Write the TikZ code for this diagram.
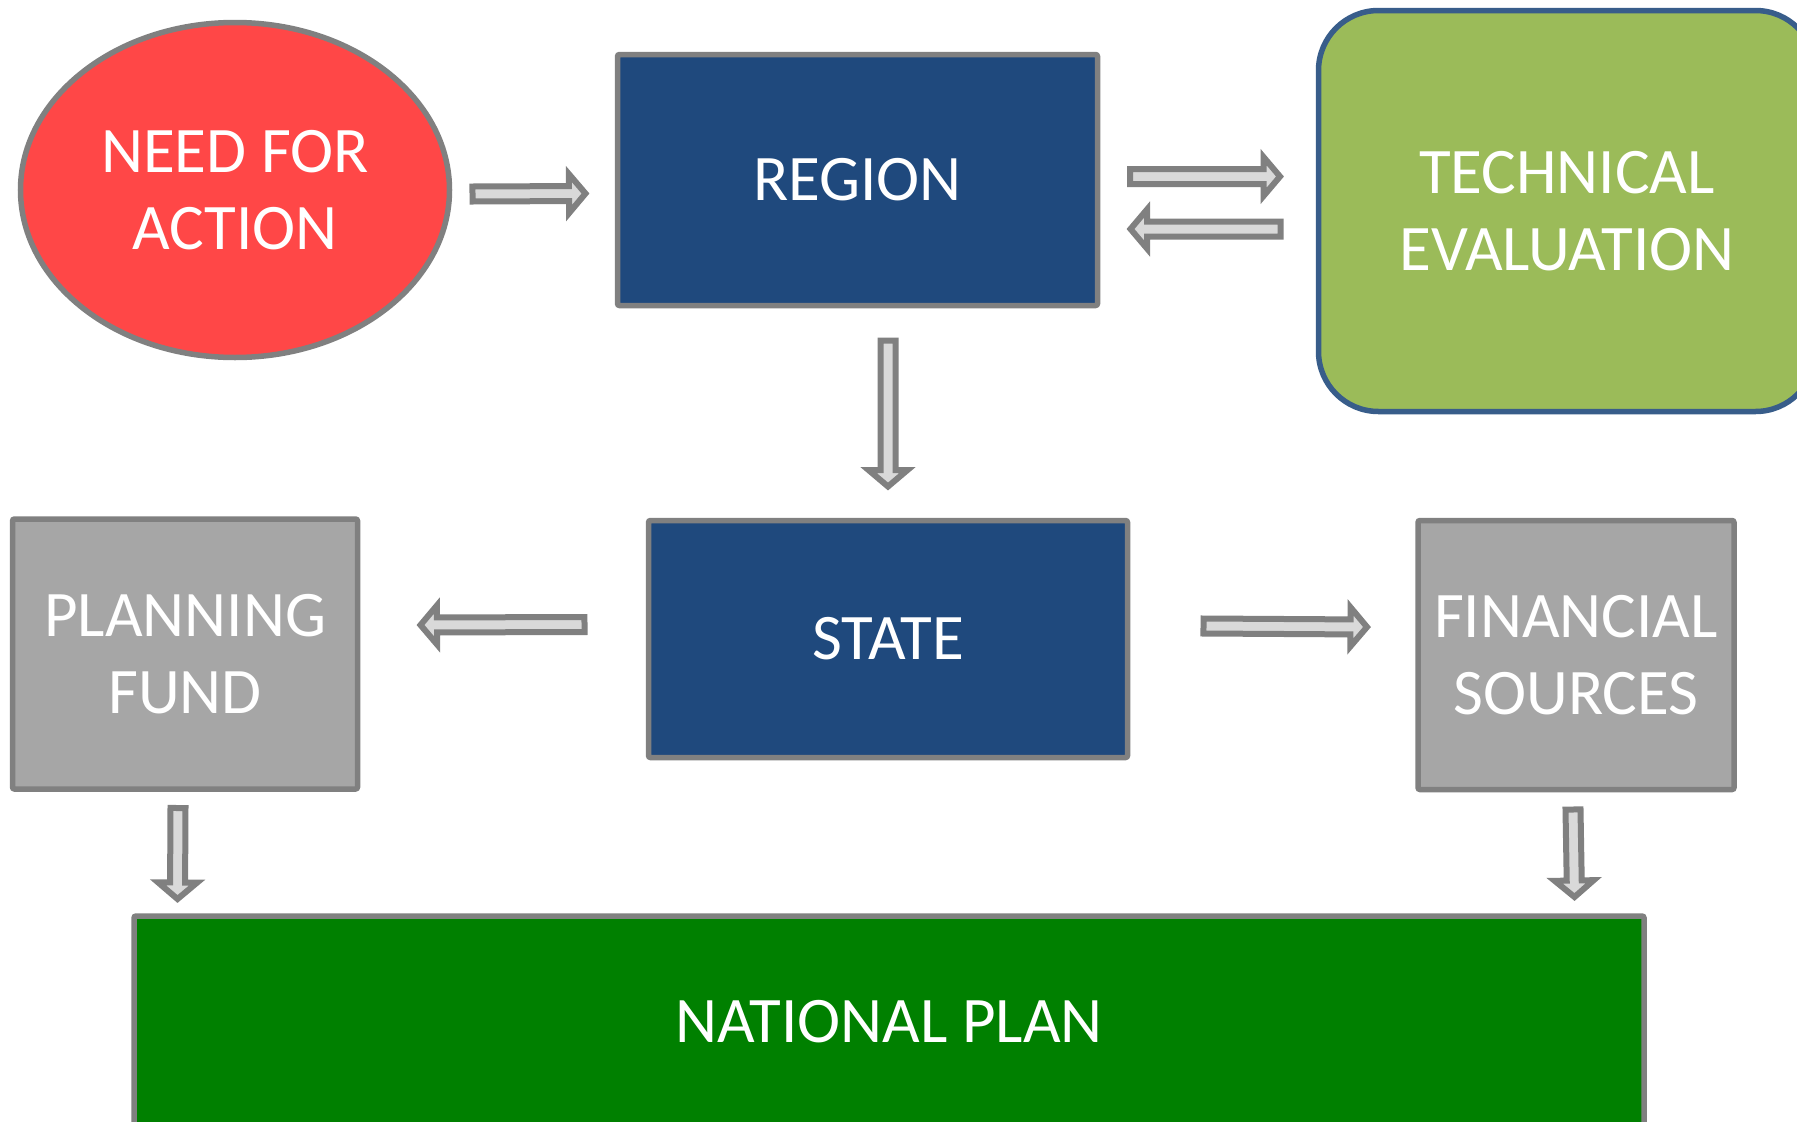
\documentclass[tikz,border=0pt]{standalone}
\usepackage{fontspec}
\setmainfont{Carlito}
\usetikzlibrary{shapes.geometric,calc}
\definecolor{needred}{RGB}{255,71,71}
\definecolor{navy}{RGB}{31,73,125}
\definecolor{olive}{RGB}{155,187,89}
\definecolor{olivebd}{RGB}{56,93,138}
\definecolor{boxgray}{RGB}{166,166,166}
\definecolor{bdgray}{RGB}{128,128,128}
\definecolor{arrfill}{RGB}{217,217,217}
\definecolor{natgreen}{RGB}{0,128,0}
\def\sw{7.5}
\def\hw{19.5}
\def\hl{16.5}
\tikzset{
  base/.style={line width=5.5pt, draw=bdgray, text=white, inner sep=0pt, outer sep=0pt,
    align=center, font=\fontsize{65}{77}\selectfont},
  rbox/.style={base, rectangle, rounded corners=2pt},
  barrow/.style={draw=bdgray, line width=6pt, fill=arrfill, line join=miter, miter limit=10,
    to path={
      let \p1=(\tikztostart), \p2=(\tikztotarget),
          \n1={veclen(\x2-\x1,\y2-\y1)},
          \n2={(\x2-\x1)/\n1}, \n3={(\y2-\y1)/\n1}
      in
      ({\x1-\sw*\n3},{\y1+\sw*\n2})
      -- ({\x2-\hl*\n2-\sw*\n3},{\y2-\hl*\n3+\sw*\n2})
      -- ({\x2-\hl*\n2-\hw*\n3},{\y2-\hl*\n3+\hw*\n2})
      -- (\p2)
      -- ({\x2-\hl*\n2+\hw*\n3},{\y2-\hl*\n3-\hw*\n2})
      -- ({\x2-\hl*\n2+\sw*\n3},{\y2-\hl*\n3-\sw*\n2})
      -- ({\x1+\sw*\n3},{\y1-\sw*\n2})
      -- cycle
    }}
}
\begin{document}
\begin{tikzpicture}[x=1pt,y=-1pt]
\useasboundingbox (0,0) rectangle (1797,1122);
\clip (0,0) rectangle (1797,1122);
\fill[white] (0,0) rectangle (1797,1122);

\node[base, ellipse, fill=needred, minimum width=429pt, minimum height=335pt] (need) at (235,190) {NEED FOR\\ACTION};
\node[rbox, fill=navy, minimum width=480pt, minimum height=251pt] (region) at (857.5,180) {REGION};
\node[base, draw=olivebd, rectangle, rounded corners=60pt, fill=olive, minimum width=497pt, minimum height=401pt] (tech) at (1567,211) {TECHNICAL\\EVALUATION};
\node[rbox, fill=navy, minimum width=479pt, minimum height=237pt] (state) at (888,639) {STATE};
\node[rbox, fill=boxgray, minimum width=345pt, minimum height=270pt] (plan) at (185,654) {PLANNING\\FUND};
\node[rbox, fill=boxgray, minimum width=316pt, minimum height=269pt] (fin) at (1576,655) {FINANCIAL\\SOURCES};
\node[rbox, fill=natgreen, minimum width=1510pt, minimum height=212pt] (nat) at (889,1022) {NATIONAL PLAN};

\draw[barrow] ([xshift=23pt,yshift=-4pt]need.east) to ([xshift=-32pt,yshift=-13.5pt]region.west);
\draw[barrow] ([xshift=32.5pt,yshift=3.5pt]region.east) to ([xshift=-38.5pt,yshift=34.5pt]tech.west);
\draw[barrow] ([xshift=-38pt,yshift=-18pt]tech.west) to ([xshift=33pt,yshift=-49pt]region.east);
\draw[barrow] ([xshift=30.5pt,yshift=-35pt]region.south) to ([yshift=34pt]state.north);
\draw[barrow] ([xshift=-64pt,yshift=14.5pt]state.west) to ([xshift=63pt,yshift=29pt]plan.east);
\draw[barrow] ([xshift=76pt,yshift=13pt]state.east) to ([xshift=-51pt,yshift=28pt]fin.west);
\draw[barrow] ([xshift=-7pt,yshift=-19pt]plan.south) to ([xshift=43.5pt,yshift=17pt]nat.north west);
\draw[barrow] ([xshift=-3pt,yshift=-20pt]fin.south) to ([xshift=-69.5pt,yshift=19pt]nat.north east);
\end{tikzpicture}
\end{document}
